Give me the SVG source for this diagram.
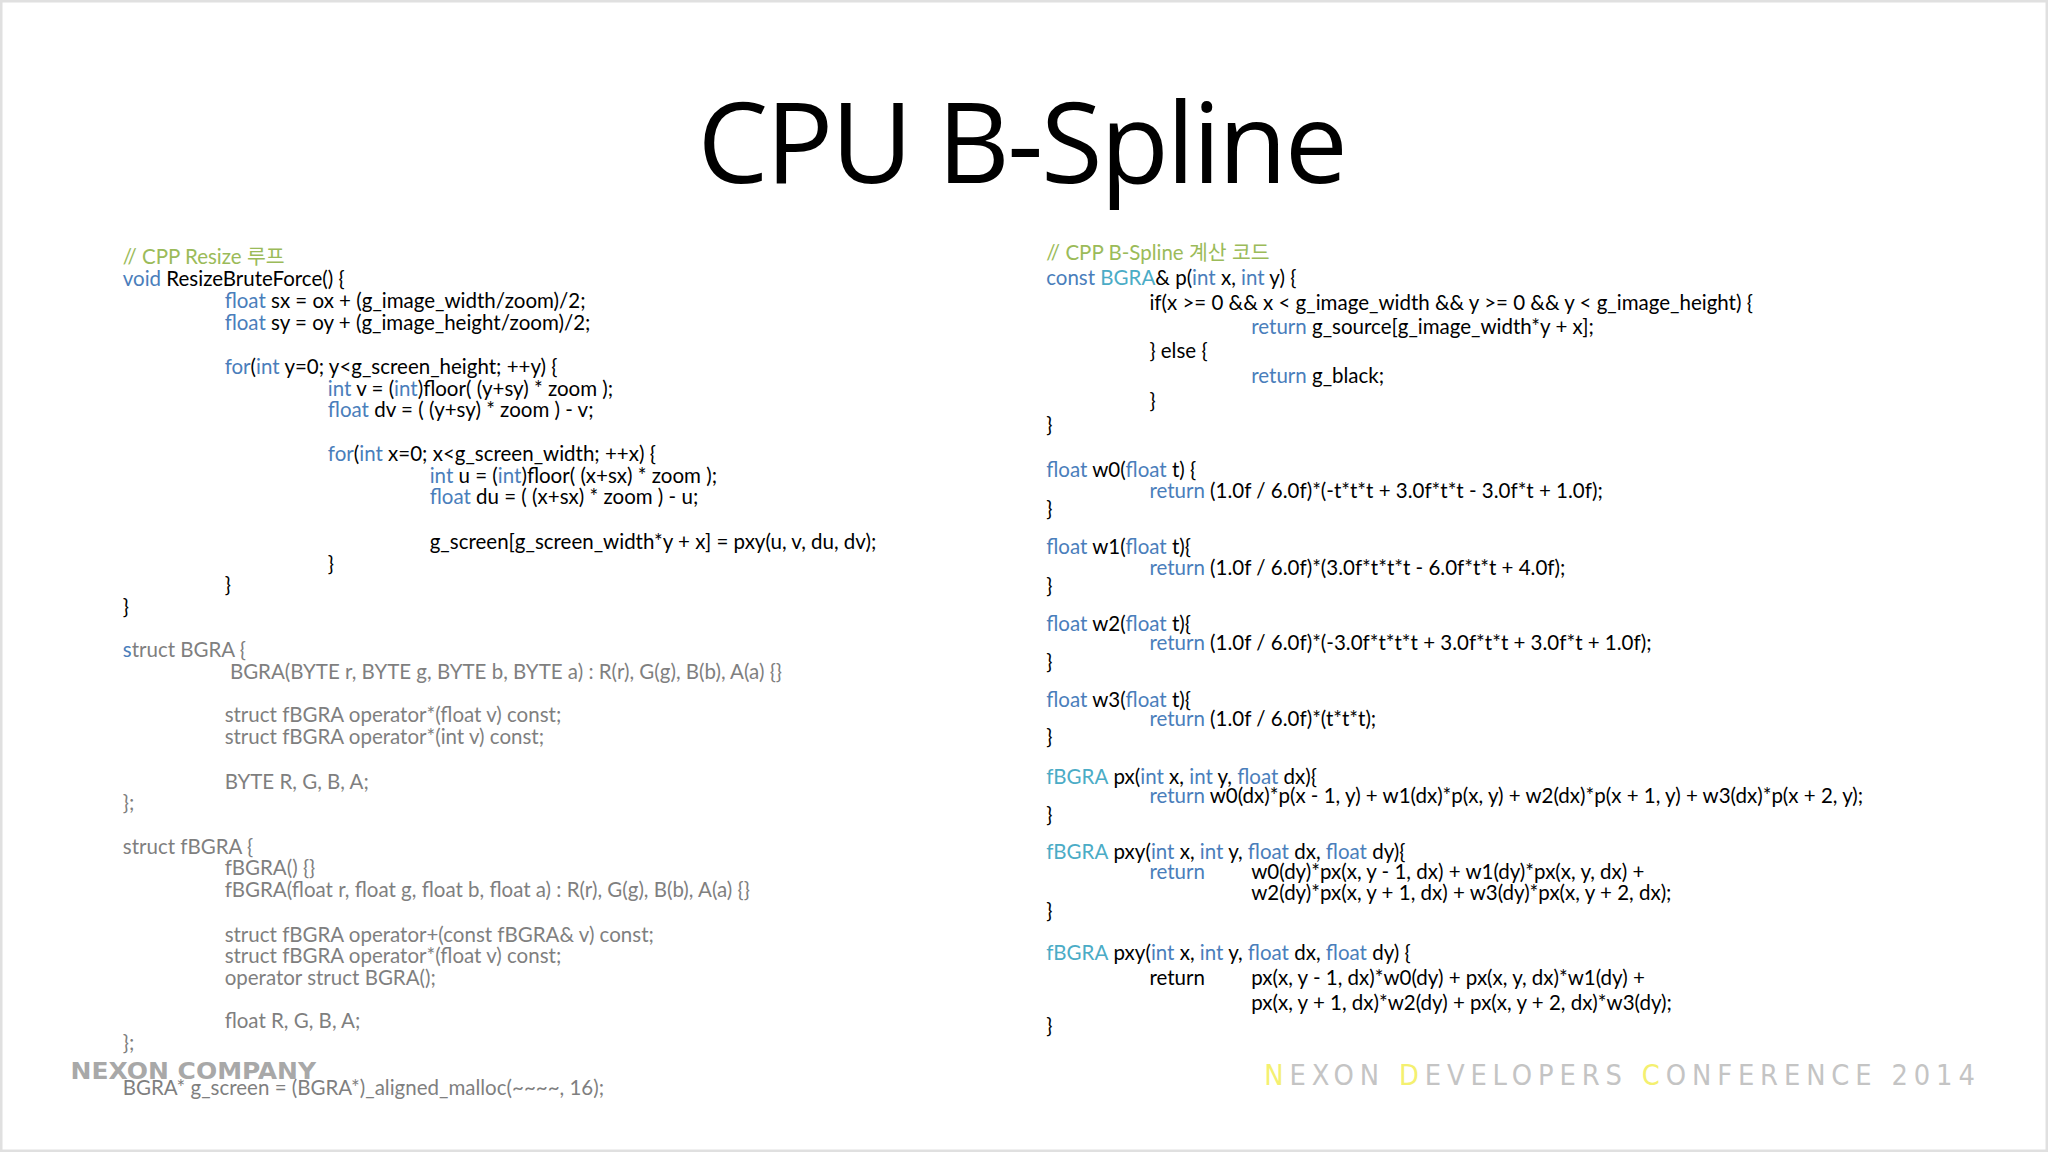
<svg xmlns="http://www.w3.org/2000/svg" width="2048" height="1152" viewBox="0 0 2048 1152">
<style>
text{font-family:Lato,"Noto Sans CJK KR",sans-serif;font-size:15.7px;fill:#000}
.k{fill:#4a7ebb}.t{fill:#4bacc6}.c{fill:#9bbb59}.g{fill:#7f7f7f}
.title{font-family:"Open Sans","Liberation Sans",sans-serif;font-size:86px}
.ft{font-family:"DejaVu Sans Condensed","Liberation Sans",sans-serif;font-size:22px;fill:#c4c4c4;letter-spacing:5px}
.y{fill:#f4f070}
</style>
<rect x="0" y="0" width="2048" height="1152" fill="#fff"/>
<rect x="1" y="1" width="2046" height="1150" fill="none" stroke="#e0e0e0" stroke-width="3"/>
<g transform="scale(1.30612)">
<g id="title"><text class="title" x="783" y="140" text-anchor="middle" textLength="498">CPU B-Spline</text></g>
<g id="left">
<text class="c" x="94" y="202">// CPP Resize 루프</text>
<text x="94" y="219"><tspan class="k">void</tspan> ResizeBruteForce() {</text>
<text x="172" y="236"><tspan class="k">float</tspan> sx = ox + (g_image_width/zoom)/2;</text>
<text x="172" y="253"><tspan class="k">float</tspan> sy = oy + (g_image_height/zoom)/2;</text>
<text x="172" y="286"><tspan class="k">for</tspan>(<tspan class="k">int</tspan> y=0; y&lt;g_screen_height; ++y) {</text>
<text x="251" y="303"><tspan class="k">int</tspan> v = (<tspan class="k">int</tspan>)floor( (y+sy) * zoom );</text>
<text x="251" y="319"><tspan class="k">float</tspan> dv = ( (y+sy) * zoom ) - v;</text>
<text x="251" y="353"><tspan class="k">for</tspan>(<tspan class="k">int</tspan> x=0; x&lt;g_screen_width; ++x) {</text>
<text x="329" y="370"><tspan class="k">int</tspan> u = (<tspan class="k">int</tspan>)floor( (x+sx) * zoom );</text>
<text x="329" y="386"><tspan class="k">float</tspan> du = ( (x+sx) * zoom ) - u;</text>
<text x="329" y="420">g_screen[g_screen_width*y + x] = pxy(u, v, du, dv);</text>
<text x="251" y="437">}</text>
<text x="172" y="453">}</text>
<text x="94" y="470">}</text>
<text class="g" x="94" y="503"><tspan class="k">s</tspan>truct BGRA {</text>
<text class="g" x="176" y="520">BGRA(BYTE r, BYTE g, BYTE b, BYTE a) : R(r), G(g), B(b), A(a) {}</text>
<text class="g" x="172" y="553">struct fBGRA operator*(float v) const;</text>
<text class="g" x="172" y="570">struct fBGRA operator*(int v) const;</text>
<text class="g" x="172" y="604">BYTE R, G, B, A;</text>
<text class="g" x="94" y="620">};</text>
<text class="g" x="94" y="654">struct fBGRA {</text>
<text class="g" x="172" y="670">fBGRA() {}</text>
<text class="g" x="172" y="687">fBGRA(float r, float g, float b, float a) : R(r), G(g), B(b), A(a) {}</text>
<text class="g" x="172" y="721">struct fBGRA operator+(const fBGRA&amp; v) const;</text>
<text class="g" x="172" y="737">struct fBGRA operator*(float v) const;</text>
<text class="g" x="172" y="754">operator struct BGRA();</text>
<text class="g" x="172" y="787">float R, G, B, A;</text>
<text class="g" x="94" y="804">};</text>
<text class="g" x="94" y="838">BGRA* g_screen = (BGRA*)_aligned_malloc(~~~~, 16);</text>
</g>
<g id="right">
<text class="c" x="801" y="199">// CPP B-Spline 계산 코드</text>
<text x="801" y="218"><tspan class="k">const</tspan> <tspan class="t">BGRA</tspan>&amp; p(<tspan class="k">int</tspan> x, <tspan class="k">int</tspan> y) {</text>
<text x="880" y="237">if(x &gt;= 0 &amp;&amp; x &lt; g_image_width &amp;&amp; y &gt;= 0 &amp;&amp; y &lt; g_image_height) {</text>
<text x="958" y="256"><tspan class="k">return</tspan> g_source[g_image_width*y + x];</text>
<text x="880" y="274">} else {</text>
<text x="958" y="293"><tspan class="k">return</tspan> g_black;</text>
<text x="880" y="312">}</text>
<text x="801" y="331">}</text>
<text x="801" y="365"><tspan class="k">float</tspan> w0(<tspan class="k">float</tspan> t) {</text>
<text x="880" y="381"><tspan class="k">return</tspan> (1.0f / 6.0f)*(-t*t*t + 3.0f*t*t - 3.0f*t + 1.0f);</text>
<text x="801" y="395">}</text>
<text x="801" y="424"><tspan class="k">float</tspan> w1(<tspan class="k">float</tspan> t){</text>
<text x="880" y="440"><tspan class="k">return</tspan> (1.0f / 6.0f)*(3.0f*t*t*t - 6.0f*t*t + 4.0f);</text>
<text x="801" y="454">}</text>
<text x="801" y="483"><tspan class="k">float</tspan> w2(<tspan class="k">float</tspan> t){</text>
<text x="880" y="498"><tspan class="k">return</tspan> (1.0f / 6.0f)*(-3.0f*t*t*t + 3.0f*t*t + 3.0f*t + 1.0f);</text>
<text x="801" y="512">}</text>
<text x="801" y="541"><tspan class="k">float</tspan> w3(<tspan class="k">float</tspan> t){</text>
<text x="880" y="556"><tspan class="k">return</tspan> (1.0f / 6.0f)*(t*t*t);</text>
<text x="801" y="570">}</text>
<text x="801" y="600"><tspan class="t">fBGRA</tspan> px(<tspan class="k">int</tspan> x, <tspan class="k">int</tspan> y, <tspan class="k">float</tspan> dx){</text>
<text x="880" y="615"><tspan class="k">return</tspan> w0(dx)*p(x - 1, y) + w1(dx)*p(x, y) + w2(dx)*p(x + 1, y) + w3(dx)*p(x + 2, y);</text>
<text x="801" y="629">}</text>
<text x="801" y="658"><tspan class="t">fBGRA</tspan> pxy(<tspan class="k">int</tspan> x, <tspan class="k">int</tspan> y, <tspan class="k">float</tspan> dx, <tspan class="k">float</tspan> dy){</text>
<text class="k" x="880" y="673">return</text>
<text x="958" y="673">w0(dy)*px(x, y - 1, dx) + w1(dy)*px(x, y, dx) +</text>
<text x="958" y="689">w2(dy)*px(x, y + 1, dx) + w3(dy)*px(x, y + 2, dx);</text>
<text x="801" y="703">}</text>
<text x="801" y="735"><tspan class="t">fBGRA</tspan> pxy(<tspan class="k">int</tspan> x, <tspan class="k">int</tspan> y, <tspan class="k">float</tspan> dx, <tspan class="k">float</tspan> dy) {</text>
<text x="880" y="754">return</text>
<text x="958" y="754">px(x, y - 1, dx)*w0(dy) + px(x, y, dx)*w1(dy) +</text>
<text x="958" y="773">px(x, y + 1, dx)*w2(dy) + px(x, y + 2, dx)*w3(dy);</text>
<text x="801" y="791">}</text>
</g>
<g id="footer">
<text x="54" y="826" style="font-family:'DejaVu Sans Condensed',sans-serif;font-weight:bold;font-size:17px;fill:#a8a8a8" textLength="188" lengthAdjust="spacingAndGlyphs">NEXON COMPANY</text>
<text class="ft" x="968" y="831" textLength="549"><tspan class="y">N</tspan>EXON <tspan class="y">D</tspan>EVELOPERS <tspan class="y">C</tspan>ONFERENCE 2014</text>
</g>
</g>
</svg>
